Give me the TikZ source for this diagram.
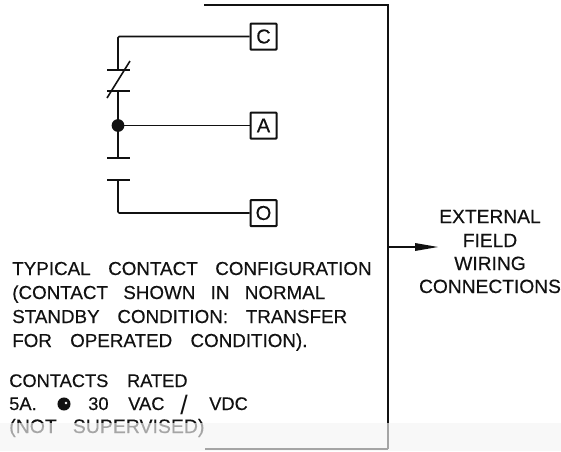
\documentclass[tikz,border=0pt]{standalone}
\usepackage{fontspec}
\setmainfont{Liberation Sans}
\newfontfamily\drawfont[FakeBold=0.35]{Liberation Sans}
\newcommand{\gp}[1]{\hspace{#1pt}\ignorespaces}
\usetikzlibrary{arrows.meta}
\definecolor{ink}{HTML}{111111}
\tikzset{
 wire/.style={draw=ink,line width=1.2pt},
 heavy/.style={draw=ink,line width=1.7pt},
 term/.style={draw=ink,line width=1.5pt,minimum width=19.5pt,minimum height=19.5pt,inner sep=0pt,font=\drawfont\fontsize{15}{15}\selectfont,text=ink,rounded corners=0.5pt},
 lbl/.style={anchor=base west,inner sep=0pt,font=\drawfont\fontsize{14.1}{14.1}\selectfont,text=ink},
 lbs/.style={anchor=base west,inner sep=0pt,font=\drawfont\fontsize{13.7}{13.7}\selectfont,text=ink},
 lbf/.style={anchor=base west,inner sep=0pt,font=\drawfont\fontsize{14.6}{14.6}\selectfont,text=ink},
 lbk/.style={anchor=base west,inner sep=0pt,font=\fontsize{20}{20}\selectfont,text=ink},
 ext/.style={anchor=base,inner sep=0pt,font=\drawfont\fontsize{14.4}{14.4}\selectfont,text=ink},
}
\begin{document}
\begin{tikzpicture}[x=0.75pt,y=-0.75pt]
\useasboundingbox (0,0) rectangle (561,451);
% frame
\coordinate (tl) at (204,5);
\coordinate (tr) at (388,5);
\coordinate (br) at (388,449);
\coordinate (bl) at (205,449);
\draw[wire] (tl) -- (tr) -- (br);
\draw[wire] (br) -- (bl);
% terminals
\node[term] (C) at (263.5,36.5) {C};
\node[term] (A) at (263.5,125.5) {A};
\node[term] (O) at (263.5,213) {O};
% contact geometry
\coordinate (cl) at (118,36.5);
\coordinate (b1) at (118,70);
\coordinate (b1l) at (107,70);
\coordinate (b1r) at (130,70);
\coordinate (b2) at (118,91);
\coordinate (b2l) at (107,91);
\coordinate (b2r) at (130,91);
\coordinate (s1) at (107,98);
\coordinate (s2) at (130,61);
\coordinate (j) at (118,125.5);
\coordinate (b3) at (118,158);
\coordinate (b3l) at (107,158);
\coordinate (b3r) at (130,158);
\coordinate (b4) at (118,180);
\coordinate (b4l) at (107,180);
\coordinate (b4r) at (130,180);
\coordinate (ol) at (118,213);
\draw[wire,rounded corners=1pt] (C.west) -- (cl) -- (b1);
\draw[heavy] (b1l) -- (b1r);
\draw[heavy] (b2l) -- (b2r);
\draw[wire] (s1) -- (s2);
\draw[heavy] (b2) -- (b3);
\draw[heavy] (b3l) -- (b3r);
\draw[heavy] (b4l) -- (b4r);
\draw[wire,rounded corners=1pt] (b4) -- (ol) -- (O.west);
\draw[wire] (j) -- (A.west);
\fill[ink] (j) circle (4.8pt);
% arrow
\coordinate (a0) at (388,247);
\coordinate (a1) at (438,247);
\coordinate (a2) at (415,247);
\draw[wire] (a0) -- (a2);
\fill[ink] (415,243) -- (a1) -- (415,251) -- cycle;
% right text
\node[ext] (t1) at (490,223) {EXTERNAL};
\node[ext] (t2) at (490,247) {FIELD};
\node[ext] (t3) at (490,270) {WIRING};
\node[ext] (t4) at (490,293) {CONNECTIONS};
% left text
\node[lbl] (l1) at (12,275) {TYPICAL\gp{13.2} CONTACT\gp{13.2} CONFIGURATION};
\node[lbl] (l2) at (12,299) {(CONTACT\gp{11.5} SHOWN\gp{11.5} IN\gp{11.5} NORMAL};
\node[lbl] (l3) at (12,323) {STANDBY\gp{13.3} CONDITION:\gp{13.3} TRANSFER};
\node[lbl] (l4) at (12,347) {FOR\gp{13.7} OPERATED\gp{13.7} CONDITION).};
\node[lbs] (l5) at (9,387) {CONTACTS\gp{14} RATED};
\node[lbs] (l6a) at (9,410) {5A.};
\fill[ink] (64,404) circle (4.9pt);
\fill[white] (66,403) circle (1pt);
\node[lbs] (l6b) at (88,410) {30};
\node[lbs] (l6c) at (128,410) {VAC};
\node[lbk] (l6d) at (180,414) {/};
\node[lbs] (l6e) at (209,410) {VDC};
\node[lbf] (l7) at (9,433) {(NOT\gp{12} SUPERVISED)};
% faded band
\fill[white!96!black,opacity=0.65] (0,423) rectangle (561,451);
\end{tikzpicture}
\end{document}
